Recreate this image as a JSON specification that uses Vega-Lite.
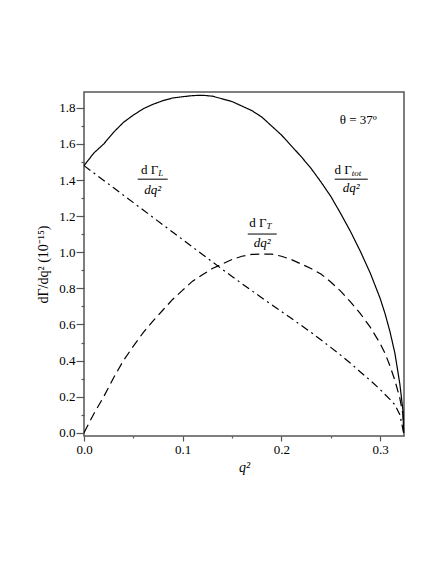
{
  "$schema": "https://vega.github.io/schema/vega-lite/v6.json",
  "width": 320,
  "height": 344,
  "autosize": "none",
  "padding": {"left": 84, "top": 92, "right": 32, "bottom": 128},
  "background": "white",
  "datasets": {
    "curves": [
      {"q2": 0, "s": "tot", "v": 1.48},
      {"q2": 0.01, "s": "tot", "v": 1.55},
      {"q2": 0.02, "s": "tot", "v": 1.6},
      {"q2": 0.03, "s": "tot", "v": 1.665},
      {"q2": 0.04, "s": "tot", "v": 1.72},
      {"q2": 0.05, "s": "tot", "v": 1.76},
      {"q2": 0.06, "s": "tot", "v": 1.795},
      {"q2": 0.07, "s": "tot", "v": 1.82},
      {"q2": 0.08, "s": "tot", "v": 1.84},
      {"q2": 0.09, "s": "tot", "v": 1.855},
      {"q2": 0.1, "s": "tot", "v": 1.862},
      {"q2": 0.11, "s": "tot", "v": 1.868},
      {"q2": 0.12, "s": "tot", "v": 1.87},
      {"q2": 0.13, "s": "tot", "v": 1.865},
      {"q2": 0.14, "s": "tot", "v": 1.85},
      {"q2": 0.15, "s": "tot", "v": 1.835},
      {"q2": 0.16, "s": "tot", "v": 1.81},
      {"q2": 0.17, "s": "tot", "v": 1.785},
      {"q2": 0.18, "s": "tot", "v": 1.75},
      {"q2": 0.19, "s": "tot", "v": 1.7},
      {"q2": 0.2, "s": "tot", "v": 1.65},
      {"q2": 0.21, "s": "tot", "v": 1.59},
      {"q2": 0.22, "s": "tot", "v": 1.53},
      {"q2": 0.23, "s": "tot", "v": 1.465},
      {"q2": 0.24, "s": "tot", "v": 1.39},
      {"q2": 0.25, "s": "tot", "v": 1.31},
      {"q2": 0.26, "s": "tot", "v": 1.215},
      {"q2": 0.27, "s": "tot", "v": 1.115},
      {"q2": 0.28, "s": "tot", "v": 1.005},
      {"q2": 0.29, "s": "tot", "v": 0.885},
      {"q2": 0.3, "s": "tot", "v": 0.745},
      {"q2": 0.305, "s": "tot", "v": 0.66},
      {"q2": 0.31, "s": "tot", "v": 0.56},
      {"q2": 0.315, "s": "tot", "v": 0.44},
      {"q2": 0.32, "s": "tot", "v": 0.27},
      {"q2": 0.3232, "s": "tot", "v": 0.12},
      {"q2": 0.3238, "s": "tot", "v": 0},
      {"q2": 0, "s": "T", "v": 0},
      {"q2": 0.01, "s": "T", "v": 0.105},
      {"q2": 0.02, "s": "T", "v": 0.2},
      {"q2": 0.03, "s": "T", "v": 0.305},
      {"q2": 0.04, "s": "T", "v": 0.4},
      {"q2": 0.05, "s": "T", "v": 0.48},
      {"q2": 0.06, "s": "T", "v": 0.555},
      {"q2": 0.07, "s": "T", "v": 0.62},
      {"q2": 0.08, "s": "T", "v": 0.68},
      {"q2": 0.09, "s": "T", "v": 0.74},
      {"q2": 0.1, "s": "T", "v": 0.79},
      {"q2": 0.11, "s": "T", "v": 0.84},
      {"q2": 0.12, "s": "T", "v": 0.875},
      {"q2": 0.13, "s": "T", "v": 0.91},
      {"q2": 0.14, "s": "T", "v": 0.935},
      {"q2": 0.15, "s": "T", "v": 0.96},
      {"q2": 0.16, "s": "T", "v": 0.978},
      {"q2": 0.17, "s": "T", "v": 0.988},
      {"q2": 0.18, "s": "T", "v": 0.99},
      {"q2": 0.19, "s": "T", "v": 0.99},
      {"q2": 0.2, "s": "T", "v": 0.978},
      {"q2": 0.21, "s": "T", "v": 0.96},
      {"q2": 0.22, "s": "T", "v": 0.935},
      {"q2": 0.23, "s": "T", "v": 0.91},
      {"q2": 0.24, "s": "T", "v": 0.88},
      {"q2": 0.25, "s": "T", "v": 0.835},
      {"q2": 0.26, "s": "T", "v": 0.785},
      {"q2": 0.27, "s": "T", "v": 0.725},
      {"q2": 0.28, "s": "T", "v": 0.66},
      {"q2": 0.29, "s": "T", "v": 0.585},
      {"q2": 0.3, "s": "T", "v": 0.495},
      {"q2": 0.305, "s": "T", "v": 0.44},
      {"q2": 0.31, "s": "T", "v": 0.37},
      {"q2": 0.315, "s": "T", "v": 0.29},
      {"q2": 0.32, "s": "T", "v": 0.19},
      {"q2": 0.3232, "s": "T", "v": 0.1},
      {"q2": 0.3238, "s": "T", "v": 0},
      {"q2": 0, "s": "L", "v": 1.48},
      {"q2": 0.01, "s": "L", "v": 1.439},
      {"q2": 0.02, "s": "L", "v": 1.398},
      {"q2": 0.03, "s": "L", "v": 1.357},
      {"q2": 0.04, "s": "L", "v": 1.316},
      {"q2": 0.05, "s": "L", "v": 1.275},
      {"q2": 0.06, "s": "L", "v": 1.234},
      {"q2": 0.07, "s": "L", "v": 1.193},
      {"q2": 0.08, "s": "L", "v": 1.152},
      {"q2": 0.09, "s": "L", "v": 1.111},
      {"q2": 0.1, "s": "L", "v": 1.07},
      {"q2": 0.11, "s": "L", "v": 1.029},
      {"q2": 0.12, "s": "L", "v": 0.988},
      {"q2": 0.13, "s": "L", "v": 0.947},
      {"q2": 0.14, "s": "L", "v": 0.906},
      {"q2": 0.15, "s": "L", "v": 0.866},
      {"q2": 0.16, "s": "L", "v": 0.826},
      {"q2": 0.17, "s": "L", "v": 0.787},
      {"q2": 0.18, "s": "L", "v": 0.748},
      {"q2": 0.19, "s": "L", "v": 0.71},
      {"q2": 0.2, "s": "L", "v": 0.672},
      {"q2": 0.21, "s": "L", "v": 0.634},
      {"q2": 0.22, "s": "L", "v": 0.595},
      {"q2": 0.23, "s": "L", "v": 0.556},
      {"q2": 0.24, "s": "L", "v": 0.515},
      {"q2": 0.25, "s": "L", "v": 0.473},
      {"q2": 0.26, "s": "L", "v": 0.43},
      {"q2": 0.27, "s": "L", "v": 0.385},
      {"q2": 0.28, "s": "L", "v": 0.337},
      {"q2": 0.29, "s": "L", "v": 0.29},
      {"q2": 0.3, "s": "L", "v": 0.24},
      {"q2": 0.305, "s": "L", "v": 0.212},
      {"q2": 0.31, "s": "L", "v": 0.185},
      {"q2": 0.315, "s": "L", "v": 0.155},
      {"q2": 0.32, "s": "L", "v": 0.1},
      {"q2": 0.3238, "s": "L", "v": 0}
    ],
    "numerators": [
      {"q2": 0.0752, "v": 1.454, "t": "d Γ", "sub": "L"},
      {"q2": 0.1848, "v": 1.162, "t": "d Γ", "sub": "T"},
      {"q2": 0.2712, "v": 1.454, "t": "d Γ", "sub": "tot"}
    ],
    "bars": [
      {"q2": 0.0544, "q2b": 0.0848, "v": 1.405},
      {"q2": 0.1659, "q2b": 0.1953, "v": 1.101},
      {"q2": 0.254, "q2b": 0.2875, "v": 1.405}
    ],
    "denominators": [
      {"q2": 0.0696, "v": 1.344, "t": "dq²"},
      {"q2": 0.1806, "v": 1.051, "t": "dq²"},
      {"q2": 0.2707, "v": 1.354, "t": "dq²"}
    ],
    "notes": [
      {"q2": 0.2778, "v": 1.732, "t": "θ = 37º"}
    ]
  },
  "layer": [
    {
      "data": {"name": "curves"},
      "mark": {"type": "line", "color": "black", "strokeWidth": 1.2},
      "encoding": {
        "x": {
          "field": "q2",
          "type": "quantitative",
          "scale": {"domain": [0, 0.3242], "nice": false, "zero": false},
          "axis": {
            "title": "q²",
            "titleFontStyle": "italic",
            "titleFontWeight": "normal",
            "titleFontSize": 14,
            "titlePadding": 4,
            "values": [0, 0.05, 0.1, 0.15, 0.2, 0.25, 0.3],
            "tickCount": 20,
            "labelExpr": "round(datum.value * 20) % 2 == 0 ? format(datum.value, '.1f') : ''",
            "tickSize": {"condition": {"test": "round(datum.value * 20) % 2 == 0", "value": 5}, "value": 2},
            "labelPadding": 2,
            "labelFlush": false,
            "labelOverlap": false,
            "domain": false,
            "grid": false
          }
        },
        "y": {
          "field": "v",
          "type": "quantitative",
          "scale": {"domain": [-0.018, 1.888], "nice": false, "zero": false},
          "axis": {
            "title": "dΓ/dq² (10⁻¹⁵)",
            "titleFontWeight": "normal",
            "titleFontSize": 14,
            "titlePadding": 8,
            "values": [0, 0.1, 0.2, 0.3, 0.4, 0.5, 0.6, 0.7, 0.8, 0.9, 1.0, 1.1, 1.2, 1.3, 1.4, 1.5, 1.6, 1.7, 1.8],
            "tickCount": 40,
            "labelExpr": "round(datum.value * 10) % 2 == 0 ? format(datum.value, '.1f') : ''",
            "tickSize": {"condition": {"test": "round(datum.value * 10) % 2 == 0", "value": 8}, "value": 3},
            "labelPadding": 1,
            "labelFlush": false,
            "labelOverlap": false,
            "domain": false,
            "grid": false
          }
        },
        "detail": {"field": "s"},
        "strokeDash": {
          "field": "s",
          "type": "nominal",
          "scale": {"domain": ["tot", "T", "L"], "range": [[1, 0], [9, 5], [8, 4, 2, 4]]},
          "legend": null
        }
      }
    },
    {
      "data": {"name": "numerators"},
      "mark": {"type": "text", "align": "right", "baseline": "middle", "fontSize": 13, "font": "Liberation Serif"},
      "encoding": {
        "x": {"field": "q2", "type": "quantitative"},
        "y": {"field": "v", "type": "quantitative"},
        "text": {"field": "t"}
      }
    },
    {
      "data": {"name": "numerators"},
      "mark": {"type": "text", "align": "left", "baseline": "middle", "dy": 3, "fontSize": 9, "fontStyle": "italic", "font": "Liberation Serif"},
      "encoding": {
        "x": {"field": "q2", "type": "quantitative"},
        "y": {"field": "v", "type": "quantitative"},
        "text": {"field": "sub"}
      }
    },
    {
      "data": {"name": "bars"},
      "mark": {"type": "rule", "color": "black", "strokeWidth": 1},
      "encoding": {
        "x": {"field": "q2", "type": "quantitative"},
        "x2": {"field": "q2b"},
        "y": {"field": "v", "type": "quantitative"}
      }
    },
    {
      "data": {"name": "denominators"},
      "mark": {"type": "text", "align": "center", "baseline": "middle", "fontSize": 13, "fontStyle": "italic", "font": "Liberation Serif"},
      "encoding": {
        "x": {"field": "q2", "type": "quantitative"},
        "y": {"field": "v", "type": "quantitative"},
        "text": {"field": "t"}
      }
    },
    {
      "data": {"name": "notes"},
      "mark": {"type": "text", "align": "center", "baseline": "middle", "fontSize": 13, "font": "Liberation Serif"},
      "encoding": {
        "x": {"field": "q2", "type": "quantitative"},
        "y": {"field": "v", "type": "quantitative"},
        "text": {"field": "t"}
      }
    }
  ],
  "config": {
    "font": "Liberation Serif",
    "view": {"stroke": "#555", "strokeWidth": 1.5},
    "axis": {
      "labelFont": "Liberation Serif",
      "titleFont": "Liberation Serif",
      "labelFontSize": 13,
      "labelColor": "black",
      "titleColor": "black",
      "tickColor": "#555",
      "tickWidth": 1.2
    }
  }
}
